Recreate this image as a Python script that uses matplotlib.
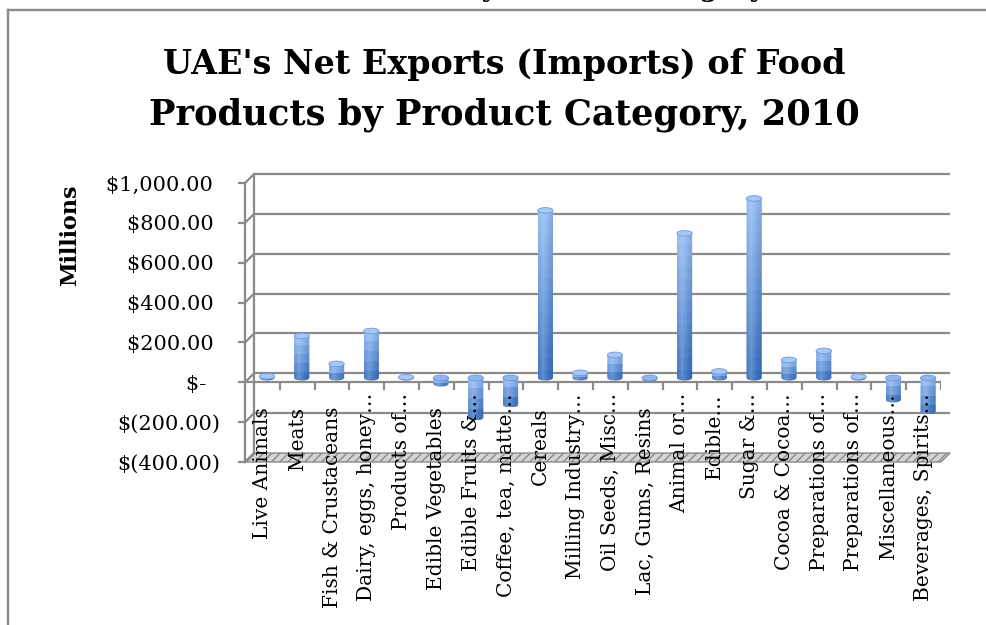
import numpy as np
import matplotlib
matplotlib.use("Agg")
import matplotlib.pyplot as plt
from matplotlib.lines import Line2D
from matplotlib.patches import Ellipse, PathPatch, Polygon
from matplotlib.path import Path

# Net exports (imports) by product category, 2010, millions of USD
categories = [
    "Live Animals", "Meats", "Fish & Crustaceans", "Dairy, eggs, honey\u2026",
    "Products of\u2026", "Edible Vegetables", "Edible Fruits &\u2026",
    "Coffee, tea, matte\u2026", "Cereals", "Milling Industry\u2026",
    "Oil Seeds, Misc\u2026", "Lac, Gums, Resins", "Animal or\u2026", "Edible\u2026",
    "Sugar &\u2026", "Cocoa & Cocoa\u2026", "Preparations of\u2026",
    "Preparations of\u2026", "Miscellaneous\u2026", "Beverages, Spirits\u2026",
]
net_exports = [
    8, 210, 70, 235, 3, -30, -200, -135, 840, 25,
    115, -6, 725, 32, 900, 90, 135, 6, -110, -170,
]
y_ticks = [-400, -200, 0, 200, 400, 600, 800, 1000]
y_tick_labels = ["$(400.00)", "$(200.00)", "$-  ", "$200.00 ", "$400.00 ",
                 "$600.00 ", "$800.00 ", "$1,000.00 "]

W, H = 987, 625
GRAY = "#8a8a8a"
SERIF = "DejaVu Serif"

fig = plt.figure(figsize=(W / 100, H / 100), dpi=100)
ax = fig.add_axes([245 / W, 1 - 462 / H, 696 / W, 279 / H])
n = len(categories)
ax.set_xlim(-0.5, n - 0.5)
ax.set_ylim(y_ticks[0], y_ticks[-1])

# depth offsets of the 3D look (back wall, and middle where the cylinders stand)
DX, DY = 0.26, 45.0
MX, MY = DX / 2, DY / 2

for side in ("top", "right", "bottom"):
    ax.spines[side].set_visible(False)
ax.spines["left"].set_color(GRAY)
ax.spines["left"].set_linewidth(1.6)
ax.set_xticks([])
ax.set_yticks(y_ticks, y_tick_labels)
ax.tick_params(axis="y", direction="out", length=5, width=1.6, color=GRAY, pad=13,
               labelsize=15)
for lab in ax.get_yticklabels():
    lab.set_fontfamily(SERIF)

# back wall: gridlines, left edge and the oblique links to the front ticks
ax.hlines(np.array(y_ticks[1:]) + DY, -0.5 + DX, n - 0.5 + DX, color=GRAY, lw=1.6,
          clip_on=False, zorder=1)
ax.vlines(-0.5 + DX, y_ticks[0] + DY, y_ticks[-1] + DY, color=GRAY, lw=1.6,
          clip_on=False, zorder=1)
for v in y_ticks:
    ax.plot([-0.5, -0.5 + DX], [v, v + DY], color=GRAY, lw=1.6, clip_on=False, zorder=1)

# floor at the minimum
floor = Polygon([(-0.5, y_ticks[0]), (n - 0.5, y_ticks[0]),
                 (n - 0.5 + DX, y_ticks[0] + DY), (-0.5 + DX, y_ticks[0] + DY)],
                closed=True, facecolor="#d4d4d4", edgecolor="#8a8a8a", hatch="////",
                lw=1.0, clip_on=False, zorder=2)
ax.add_patch(floor)

# category axis at zero with tick marks at the boundaries
ax.hlines(0, -0.5, n - 0.5, color=GRAY, lw=1.6, zorder=2)
ax.vlines(np.arange(n + 1) - 0.5, -40, 0, color=GRAY, lw=1.6, zorder=2)


def shading(rows, cols=40):
    v = (np.arange(rows) + 0.5) / rows
    u = (np.arange(cols) + 0.5) / cols
    dark = np.array([54, 110, 190]) / 255
    light = np.array([148, 188, 242]) / 255
    base = dark + (light - dark) * v[:, None]
    glow = np.clip(1 - np.abs(u - 0.32) / 0.45, 0, 1) ** 1.5
    edge = np.clip((u - 0.6) / 0.4, 0, 1)
    rgb = base[:, None, :] + (1 - base[:, None, :]) * 0.2 * glow[None, :, None]
    rgb = rgb * (1 - 0.1 * edge[None, :, None])
    return np.clip(rgb, 0, 1)


BAR_W = 0.44
ELL_H = 28.0
for i, val in enumerate(net_exports):
    x = i + MX
    lo, hi = min(val, 0) + MY, max(val, 0) + MY
    t = np.linspace(0, -np.pi, 25)
    verts = [(x - BAR_W / 2, hi), (x + BAR_W / 2, hi)]
    verts += list(zip(x + BAR_W / 2 * np.cos(t), lo + ELL_H / 2 * np.sin(t)))
    verts += [(x - BAR_W / 2, hi)]
    clip = PathPatch(Path(verts, closed=True), transform=ax.transData,
                     facecolor="none", edgecolor="none")
    ax.add_patch(clip)
    rows = max(2, int(round(abs(val) / 60)) + 1)
    im = ax.imshow(shading(rows), extent=(x - BAR_W / 2, x + BAR_W / 2, lo - ELL_H / 2, hi),
                   origin="lower", aspect="auto", interpolation="nearest", zorder=4)
    im.set_clip_path(clip)
    top_col = "#a9c7f4" if val > 0 else "#92b5ec"
    ax.add_patch(Ellipse((x, hi), BAR_W, ELL_H, facecolor=top_col,
                         edgecolor="#6f9ad8", lw=0.6, zorder=5))

ax.set_xlim(-0.5, n - 0.5)
ax.set_ylim(y_ticks[0], y_ticks[-1])

# rotated category labels (truncated ones stick out a little higher)
for i, name in enumerate(categories):
    top = -54 if name.endswith("\u2026") else -124
    ax.text(i, top, name, rotation=90, ha="center", va="top", fontsize=14.5,
            family=SERIF, zorder=6, clip_on=False)

fig.text(70 / W, 1 - 235 / H, "Millions", rotation=90, ha="center", va="center",
         fontsize=16, fontweight="bold", family=SERIF)

title_lines = ["UAE's Net Exports (Imports) of Food", "Products by Product Category, 2010"]
renderer = fig.canvas.get_renderer()
for line, base_y, target in zip(title_lines, (74, 125), (683, 712)):
    txt = fig.text(504 / W, 1 - base_y / H, line, ha="center", va="baseline",
                   fontsize=30, fontweight="bold", family=SERIF)
    width = txt.get_window_extent(renderer).width
    txt.set_fontsize(30 * target / width)

# heading of the page above, cut off by the top edge
fig.text(765 / W, 1 + 3 / H, "UAE Net Trade by Product Category", ha="right",
         va="baseline", fontsize=19, fontweight="bold", family=SERIF)

# chart frame (its right and bottom edges are outside the picture)
fig.add_artist(Line2D([8 / W, 8 / W], [0, 1 - 10 / H], color=GRAY, lw=1.7))
fig.add_artist(Line2D([8 / W, 1], [1 - 10 / H, 1 - 10 / H], color=GRAY, lw=1.7))

fig.savefig("out.png", dpi=100, facecolor="white")
